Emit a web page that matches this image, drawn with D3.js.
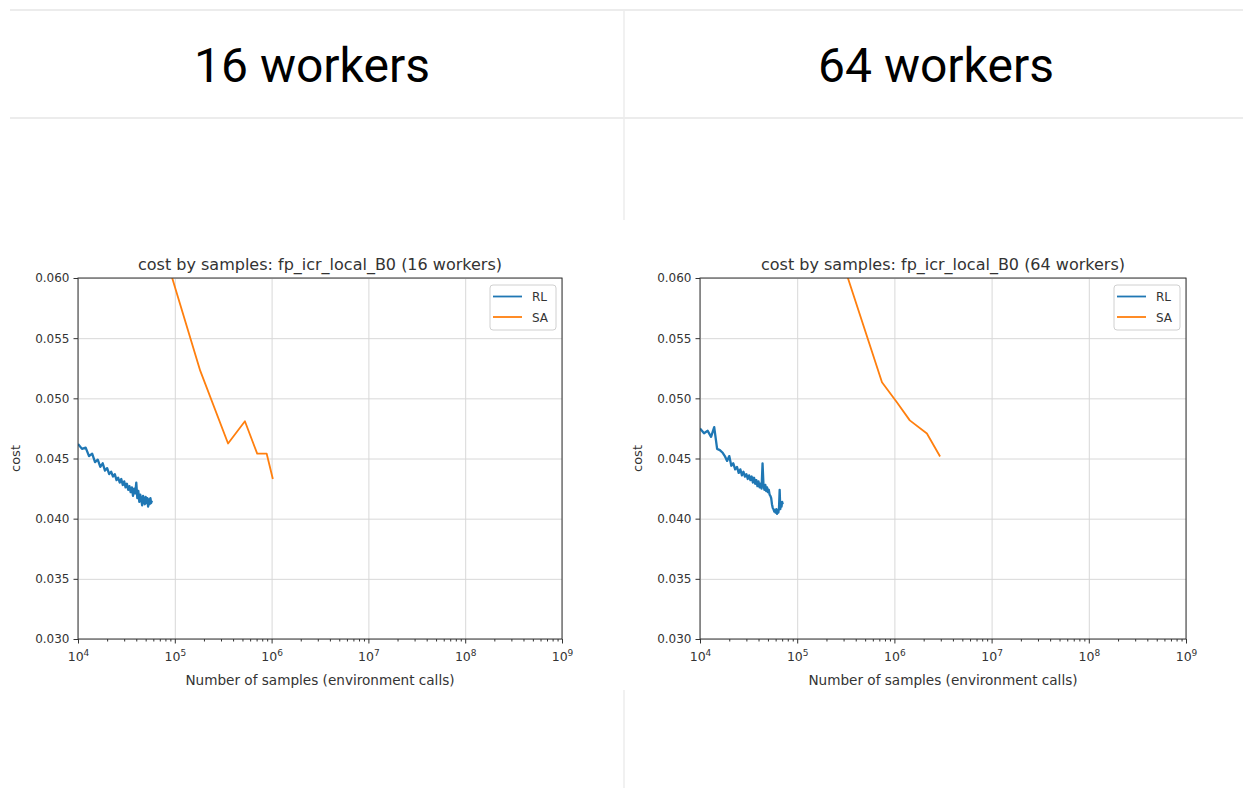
<!DOCTYPE html>
<html>
<head>
<meta charset="utf-8">
<script src="https://cdn.jsdelivr.net/npm/d3@7"></script>
<style>
  body { margin: 0; background: #fff; }
  svg { display: block; }
  .mpl text { font-family: "DejaVu Sans", sans-serif; fill: #333; }
</style>
</head>
<body>
<div id="graphCanvas"></div>
<script>
var maxWidth = 1243;
var maxHeight = 788;

// panel headings
var headings = ["16 workers", "64 workers"];
var titles = ["cost by samples: fp_icr_local_B0 (16 workers)",
              "cost by samples: fp_icr_local_B0 (64 workers)"];
var seriesNames = ["RL", "SA"];
var xTicks = [1e4, 1e5, 1e6, 1e7, 1e8, 1e9];
var yTicks = [0.030, 0.035, 0.040, 0.045, 0.050, 0.055, 0.060];

// 16 workers
var rl16Samples = [10000, 11000, 12000, 13000, 14000, 15000, 16000, 17000, 18000, 19000,
                   20000, 21000, 22000, 23000, 24000, 25000, 26000, 27000, 28000, 29000,
                   30000, 31000, 32000, 33000, 34000, 35000, 36000, 37000, 38000, 39000,
                   40000, 41000, 42000, 43000, 44000, 45000, 46000, 47000, 48000, 49000,
                   50000, 51000, 52000, 53000, 54000, 55000, 56000, 57000, 58000];
var rl16Cost = [0.0462, 0.0458, 0.0459, 0.0452, 0.0454, 0.0447, 0.0449, 0.0443, 0.0446, 0.0440,
                0.0442, 0.0437, 0.0439, 0.0435, 0.0437, 0.0432, 0.0434, 0.0430, 0.0433, 0.0428,
                0.0431, 0.0426, 0.0429, 0.0424, 0.0427, 0.0422, 0.0426, 0.0419, 0.0425, 0.0421,
                0.0430, 0.0417, 0.0423, 0.0414, 0.0420, 0.0416, 0.0411, 0.0419, 0.0415, 0.0412,
                0.0418, 0.0413, 0.0417, 0.0410, 0.0416, 0.0412, 0.0417, 0.0413, 0.0415];
var sa16Samples = [90000, 183000, 355000, 530000, 710000, 890000, 1030000];
var sa16Cost = [0.0605, 0.0523, 0.04625, 0.0481, 0.0454, 0.0454, 0.0433];

// 64 workers
var rl64Samples = [10000, 11000, 12000, 13000, 14000, 15000, 16000, 17000, 18000, 19000,
                   20000, 21000, 22000, 23000, 24000, 25000, 26000, 27000, 28000, 29000,
                   30000, 31000, 32000, 33000, 34000, 35000, 36000, 37000, 38000, 39000,
                   40000, 41000, 42000, 43000, 44000, 45000, 46000, 47000, 48000, 49000,
                   50000, 51000, 52000, 53000, 54000, 55000, 56000, 57000, 58000, 59000,
                   60000, 61000, 62000, 63000, 64000, 65000, 66000, 67000, 68000, 69000,
                   70000, 71000];
var rl64Cost = [0.0475, 0.0471, 0.0473, 0.0468, 0.0476, 0.0458, 0.0457, 0.0455, 0.0452, 0.0448,
                0.0452, 0.0444, 0.0446, 0.0441, 0.0443, 0.0438, 0.0441, 0.0436, 0.0439, 0.0435,
                0.0437, 0.0433, 0.0436, 0.0432, 0.0435, 0.0430, 0.0434, 0.0429, 0.0432, 0.0427,
                0.0431, 0.0426, 0.0429, 0.0425, 0.0446, 0.0428, 0.0424, 0.0428, 0.0423, 0.0426,
                0.0422, 0.0424, 0.0420, 0.0419, 0.0417, 0.0412, 0.0409, 0.0408, 0.0406, 0.0407,
                0.0405, 0.0408, 0.0404, 0.0407, 0.0405, 0.0409, 0.0424, 0.0408, 0.0413, 0.0410,
                0.0414, 0.0412];
var sa64Samples = [300000, 745000, 1060000, 1440000, 2160000, 2950000];
var sa64Cost = [0.0611, 0.05133, 0.04967, 0.04817, 0.04708, 0.04517];

var rlColor = "#1f77b4";
var saColor = "#ff7f0e";

var vis = d3.select("#graphCanvas").append("svg")
    .attr("width", maxWidth).attr("height", maxHeight);

vis.append("rect").attr("width", maxWidth).attr("height", maxHeight).attr("fill", "#fff");

// table frame lines
var frame = vis.append("g").attr("stroke", "#ececec");
frame.append("line").attr("x1", 10).attr("x2", maxWidth).attr("y1", 10).attr("y2", 10).attr("stroke-width", 2);
frame.append("line").attr("x1", 10).attr("x2", maxWidth).attr("y1", 118).attr("y2", 118).attr("stroke-width", 2);
frame.append("line").attr("x1", 624).attr("x2", 624).attr("y1", 10).attr("y2", 220).attr("stroke-width", 1.5);
frame.append("line").attr("x1", 624).attr("x2", 624).attr("y1", 690).attr("y2", maxHeight).attr("stroke-width", 1.5);

vis.selectAll(".heading").data(headings).enter().append("text")
    .attr("class", "heading")
    .attr("x", function(d, i) { return i == 0 ? 312 : 936; })
    .attr("y", 82)
    .attr("text-anchor", "middle")
    .style("font-family", "Roboto, sans-serif")
    .style("font-size", "48px")
    .style("fill", "#000")
    .text(function(d) { return d; });

function zip(xs, ys) {
    var out = new Array();
    for (var i = 0; i < xs.length; i++) {
        out.push({s: xs[i], c: ys[i]});
    }
    return out;
}

function drawPanel(idx, left, right, title, rlData, saData) {
    var top = 278, bottom = 639;
    var g = vis.append("g").attr("class", "mpl");

    var x = d3.scaleLog().domain([1e4, 1e9]).range([left, right]);
    var y = d3.scaleLinear().domain([0.030, 0.060]).range([bottom, top]);

    // grid
    g.append("g").attr("transform", "translate(0," + bottom + ")")
        .call(d3.axisBottom(x).tickValues(xTicks).tickSize(-(bottom - top)).tickFormat(""))
        .call(function(a) {
            a.select(".domain").remove();
            a.selectAll("line").attr("stroke", "#d8d8d8").attr("stroke-width", 1);
        });
    g.append("g").attr("transform", "translate(" + left + ",0)")
        .call(d3.axisLeft(y).tickValues(yTicks).tickSize(-(right - left)).tickFormat(""))
        .call(function(a) {
            a.select(".domain").remove();
            a.selectAll("line").attr("stroke", "#d8d8d8").attr("stroke-width", 1);
        });

    // lines
    g.append("clipPath").attr("id", "clip" + idx)
        .append("rect").attr("x", left).attr("y", top)
        .attr("width", right - left).attr("height", bottom - top);

    var line = d3.line()
        .x(function(d) { return x(d.s); })
        .y(function(d) { return y(d.c); });

    g.append("path").datum(rlData)
        .attr("clip-path", "url(#clip" + idx + ")")
        .attr("fill", "none").attr("stroke", rlColor)
        .attr("stroke-width", 2.3).attr("stroke-linejoin", "round")
        .attr("d", line);
    g.append("path").datum(saData)
        .attr("clip-path", "url(#clip" + idx + ")")
        .attr("fill", "none").attr("stroke", saColor)
        .attr("stroke-width", 1.8).attr("stroke-linejoin", "round")
        .attr("d", line);

    // minor ticks
    var minors = new Array();
    for (var e = 4; e < 9; e++) {
        for (var m = 2; m < 10; m++) minors.push(m * Math.pow(10, e));
    }
    g.append("g").attr("transform", "translate(0," + bottom + ")")
        .call(d3.axisBottom(x).tickValues(minors).tickSize(2.5).tickFormat(""))
        .call(function(a) {
            a.select(".domain").remove();
            a.selectAll("line").attr("stroke", "#333");
        });

    // x axis
    g.append("g").attr("transform", "translate(0," + bottom + ")")
        .call(d3.axisBottom(x).tickValues(xTicks).tickSize(4.5).tickSizeOuter(0).tickPadding(9)
            .tickFormat(function() { return ""; }))
        .call(function(a) {
            a.select(".domain").remove();
            a.selectAll("line").attr("stroke", "#333");
            a.selectAll(".tick text").attr("font-size", 12.5).attr("font-family", null).each(function(d) {
                var t = d3.select(this);
                t.text("10");
                t.append("tspan").attr("dy", -5).attr("font-size", 9)
                    .text(Math.round(Math.log10(d)));
            });
        });

    // y axis
    g.append("g").attr("transform", "translate(" + left + ",0)")
        .call(d3.axisLeft(y).tickValues(yTicks).tickSize(4.5).tickSizeOuter(0).tickPadding(4)
            .tickFormat(d3.format(".3f")))
        .call(function(a) {
            a.select(".domain").remove();
            a.selectAll("line").attr("stroke", "#333");
            a.selectAll(".tick text").attr("font-size", 12).attr("font-family", null);
        });

    // frame
    g.append("rect").attr("x", left).attr("y", top)
        .attr("width", right - left).attr("height", bottom - top)
        .attr("fill", "none").attr("stroke", "#333").attr("stroke-width", 1);

    // texts
    g.append("text").attr("x", (left + right) / 2).attr("y", 270)
        .attr("text-anchor", "middle").attr("font-size", 16).text(title);
    g.append("text").attr("x", (left + right) / 2).attr("y", 685)
        .attr("text-anchor", "middle").attr("font-size", 13.6)
        .text("Number of samples (environment calls)");
    g.append("text")
        .attr("transform", "translate(" + (left - 58) + "," + ((top + bottom) / 2) + ") rotate(-90)")
        .attr("text-anchor", "middle").attr("font-size", 13).text("cost");

    // legend
    var lx = right - 72, ly = top + 7;
    var leg = g.append("g");
    leg.append("rect").attr("x", lx).attr("y", ly).attr("width", 66).attr("height", 45)
        .attr("rx", 3).attr("fill", "#fff").attr("fill-opacity", 0.8)
        .attr("stroke", "#d0d0d0");
    leg.selectAll(".item").data(seriesNames).enter().append("g").each(function(d, i) {
        var it = d3.select(this);
        var yy = ly + 11.5 + i * 20.5;
        it.append("line").attr("x1", lx + 3).attr("x2", lx + 32)
            .attr("y1", yy).attr("y2", yy)
            .attr("stroke", i == 0 ? rlColor : saColor).attr("stroke-width", 1.8);
        it.append("text").attr("x", lx + 42).attr("y", yy + 4.5)
            .attr("font-size", 12).text(d);
    });
}

drawPanel(0, 78, 562, titles[0], zip(rl16Samples, rl16Cost), zip(sa16Samples, sa16Cost));
drawPanel(1, 700, 1186, titles[1], zip(rl64Samples, rl64Cost), zip(sa64Samples, sa64Cost));
</script>
</body>
</html>
